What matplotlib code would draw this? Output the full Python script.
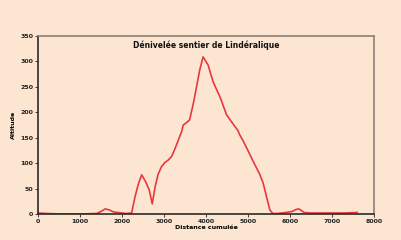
import matplotlib
matplotlib.use("Agg")
from matplotlib import pyplot as plt

# distance cumulée (m) et altitude (m)
distance = [0, 200, 600, 1000, 1400, 1500, 1600, 1700, 1800, 1900, 2000,
            2100, 2230, 2310, 2400, 2470, 2560, 2650, 2720, 2790, 2860,
            2940, 3020, 3100, 3180, 3260, 3340, 3420, 3460, 3540, 3610,
            3700, 3780, 3850, 3930, 3990, 4050, 4110, 4170, 4250, 4330,
            4410, 4490, 4550, 4610, 4690, 4760, 4800, 4870, 4920, 5020,
            5120, 5200, 5280, 5360, 5440, 5520, 5590, 5700, 5800, 5910,
            6050, 6150, 6210, 6270, 6330, 6500, 7000, 7300, 7600]
altitude = [2, 1, 0, 0, 1, 5, 10, 8, 4, 3, 2,
            1, 2, 34, 62, 77, 64, 47, 20, 54, 78,
            93, 101, 106, 113, 128, 145, 162, 175, 180, 185,
            218, 252, 283, 309, 301, 293, 276, 260, 245, 231,
            213, 195, 188, 181, 172, 164, 156, 146, 138, 121,
            104, 91, 78, 61, 34, 8, 1, 1, 2, 3,
            5, 9, 10, 7, 3, 2, 2, 2, 3]

xticks = [0, 1000, 2000, 3000, 4000, 5000, 6000, 7000, 8000]
yticks = [0, 50, 100, 150, 200, 250, 300, 350]

bg = "#fde6d1"

fig = plt.figure(figsize=(4.02, 2.40), dpi=100, facecolor=bg)
ax = fig.add_axes([38 / 402, 1 - 214 / 240, 336 / 402, 178 / 240])
ax.set_facecolor(bg)

ax.plot(distance, altitude, color="#e8383d", linewidth=1.2)

ax.set_xlim(0, 8000)
ax.set_ylim(0, 350)
ax.set_xticks(xticks)
ax.set_yticks(yticks)
ax.tick_params(labelsize=4.5, length=2, width=0.6, pad=1.5, colors="#222222")
for lab in ax.get_xticklabels() + ax.get_yticklabels():
    lab.set_fontweight("bold")

for side in ["left", "bottom"]:
    ax.spines[side].set_color("#2a2a2a")
    ax.spines[side].set_linewidth(1.2)
for side in ["top", "right"]:
    ax.spines[side].set_color("#8a7f78")
    ax.spines[side].set_linewidth(1.2)

ax.text(0.5, 0.95, "Dénivelée sentier de Lindéralique", transform=ax.transAxes,
        ha="center", va="center", fontsize=5.5, fontweight="bold", color="#111111")
ax.set_xlabel("Distance cumulée", fontsize=4.5, fontweight="bold", labelpad=1)
ax.set_ylabel("Altitude", fontsize=4.5, fontweight="bold", labelpad=3)

fig.savefig("out.png", dpi=100, facecolor=bg)
